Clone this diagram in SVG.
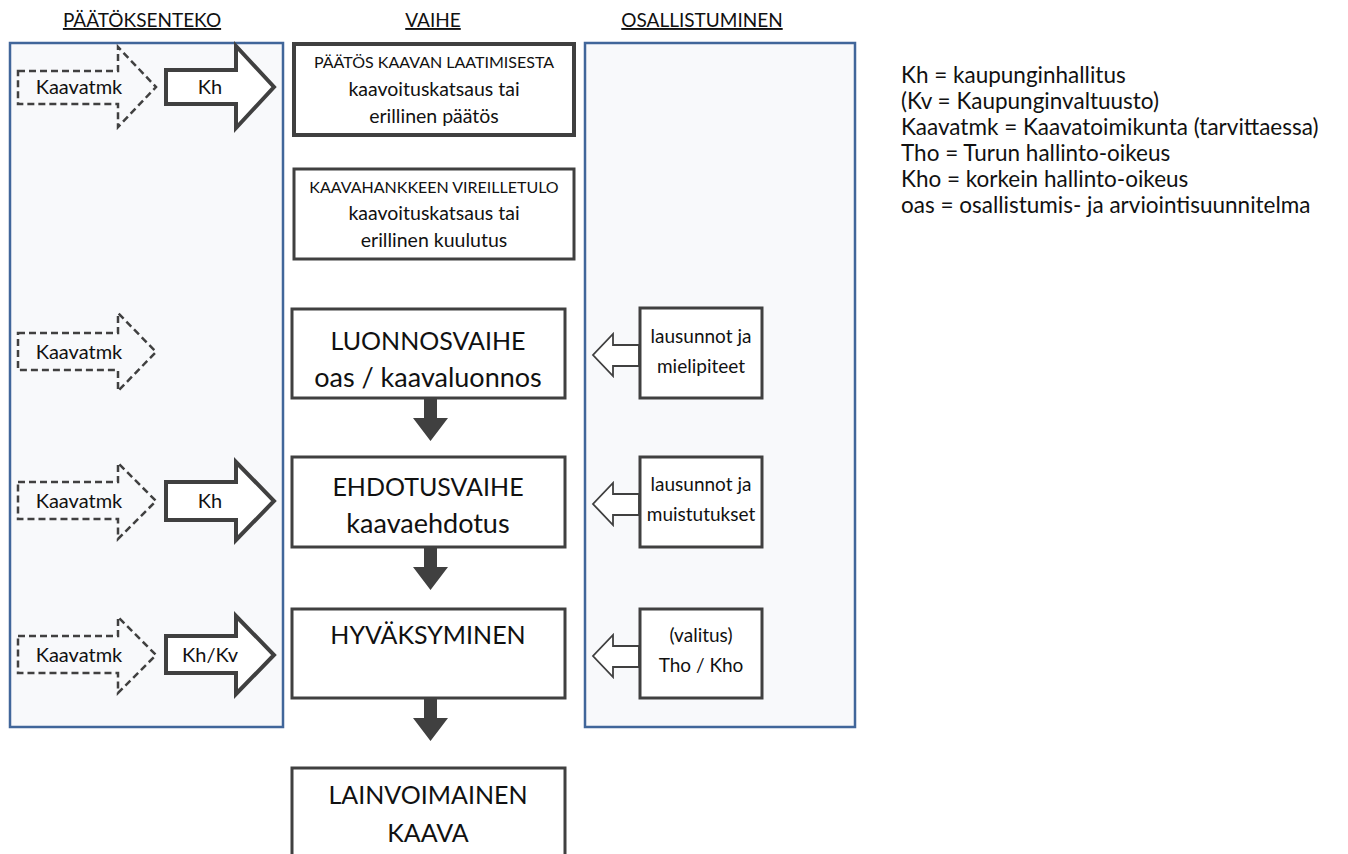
<svg xmlns="http://www.w3.org/2000/svg" width="1348" height="854" viewBox="0 0 1348 854">
<style>
text{font-family:Lato,"Open Sans","Liberation Sans",sans-serif;fill:#111;}
.hdr{font-size:19px;text-anchor:middle;text-decoration:underline;}
.panel{fill:#f8f9fb;stroke:#41669a;stroke-width:2.5;}
.box{fill:#fff;stroke:#404040;stroke-width:3;}
.box1{fill:#fff;stroke:#404040;stroke-width:4;}
.cap{font-size:16px;text-anchor:middle;}
.sm{font-size:19.5px;text-anchor:middle;}
.bigc{font-size:25px;text-anchor:middle;}
.big{font-size:27px;text-anchor:middle;}
.md{font-size:19px;text-anchor:middle;}
.lbl{font-size:20px;text-anchor:middle;}
.dash{fill:none;stroke:#404040;stroke-width:2.5;stroke-dasharray:7,4;}
.solid{fill:#fff;stroke:#404040;stroke-width:4;stroke-linejoin:miter;}
.hollow{fill:#fff;stroke:#404040;stroke-width:1.8;}
.down{fill:#404040;}
.leg{font-size:22.5px;}
</style>
<g id="headers">
<text class="hdr" x="142" y="27">PÄÄTÖKSENTEKO</text>
<text class="hdr" x="433" y="27">VAIHE</text>
<text class="hdr" x="702" y="27">OSALLISTUMINEN</text>
</g>
<g id="panel-paatoksenteko"><rect class="panel" x="10" y="43" width="273" height="684"/></g>
<g id="panel-osallistuminen"><rect class="panel" x="585" y="43" width="270" height="684"/></g>

<g id="connectors">
<path class="dash" d="M18,71 H118 V47 L156,87 L118,127 V104 H18 Z"/>
<path class="solid" d="M166,70 H236 V46 L274,87 L236,128 V104 H166 Z"/>
<path class="dash" d="M18,333 H118 V313 L156,352 L118,391 V370 H18 Z"/>
<path class="dash" d="M18,482 H118 V463 L156,501 L118,539 V519 H18 Z"/>
<path class="solid" d="M166,482 H236 V462 L274,501 L236,540 V520 H166 Z"/>
<path class="dash" d="M18,636 H118 V617 L156,655 L118,693 V673 H18 Z"/>
<path class="solid" d="M166,636 H236 V616 L274,655 L236,694 V673 H166 Z"/>
<path class="hollow" d="M639,345 H613 V334 L593,355 L613,376 V366 H639 Z"/>
<path class="hollow" d="M639,494 H613 V483 L593,504 L613,525 V515 H639 Z"/>
<path class="hollow" d="M639,646 H613 V635 L593,656 L613,677 V667 H639 Z"/>
<path class="down" d="M424,399 H437 V418 H448 L430.5,441 L413,418 H424 Z"/>
<path class="down" d="M424,548 H437 V567 H448 L430.5,590 L413,567 H424 Z"/>
<path class="down" d="M424,699 H437 V718 H448 L430.5,741 L413,718 H424 Z"/>
</g>

<g id="lbl-arrows">
<text class="lbl" x="79" y="94">Kaavatmk</text>
<text class="lbl" x="210" y="94">Kh</text>
<text class="lbl" x="79" y="359">Kaavatmk</text>
<text class="lbl" x="79" y="508">Kaavatmk</text>
<text class="lbl" x="210" y="508">Kh</text>
<text class="lbl" x="79" y="662">Kaavatmk</text>
<text class="lbl" x="210" y="662">Kh/Kv</text>
</g>

<g id="node-paatos">
<rect class="box1" x="294" y="44" width="280" height="91"/>
<text class="cap" x="434" y="68">PÄÄTÖS KAAVAN LAATIMISESTA</text>
<text class="sm" x="434" y="96">kaavoituskatsaus tai</text>
<text class="sm" x="434" y="123">erillinen päätös</text>
</g>
<g id="node-vireilletulo">
<rect class="box" x="294" y="169" width="280" height="90"/>
<text class="cap" x="434" y="193">KAAVAHANKKEEN VIREILLETULO</text>
<text class="sm" x="434" y="220">kaavoituskatsaus tai</text>
<text class="sm" x="434" y="247">erillinen kuulutus</text>
</g>
<g id="node-luonnos">
<rect class="box" x="292" y="309" width="273" height="89"/>
<text class="bigc" x="428" y="350">LUONNOSVAIHE</text>
<text class="big" x="428" y="387">oas / kaavaluonnos</text>
</g>
<g id="node-ehdotus">
<rect class="box" x="292" y="457" width="273" height="90"/>
<text class="bigc" x="428" y="496">EHDOTUSVAIHE</text>
<text class="big" x="428" y="533">kaavaehdotus</text>
</g>
<g id="node-hyvaksyminen">
<rect class="box" x="292" y="609" width="273" height="89"/>
<text class="bigc" x="428" y="644">HYVÄKSYMINEN</text>
</g>
<g id="node-lainvoimainen">
<rect class="box" x="292" y="768" width="273" height="100"/>
<text class="bigc" x="428" y="804">LAINVOIMAINEN</text>
<text class="bigc" x="428" y="842">KAAVA</text>
</g>

<g id="node-mielipiteet">
<rect class="box" x="640" y="308" width="122" height="90"/>
<text class="md" x="701" y="343">lausunnot ja</text>
<text class="md" x="701" y="373">mielipiteet</text>
</g>
<g id="node-muistutukset">
<rect class="box" x="640" y="457" width="122" height="90"/>
<text class="md" x="701" y="491">lausunnot ja</text>
<text class="md" x="701" y="521">muistutukset</text>
</g>
<g id="node-valitus">
<rect class="box" x="640" y="609" width="122" height="89"/>
<text class="md" x="701" y="642">(valitus)</text>
<text class="md" x="701" y="672">Tho / Kho</text>
</g>

<g id="legend">
<text class="leg" x="901" y="83">Kh = kaupunginhallitus</text>
<text class="leg" x="901" y="109">(Kv = Kaupunginvaltuusto)</text>
<text class="leg" x="901" y="135">Kaavatmk = Kaavatoimikunta (tarvittaessa)</text>
<text class="leg" x="901" y="161">Tho = Turun hallinto-oikeus</text>
<text class="leg" x="901" y="187">Kho = korkein hallinto-oikeus</text>
<text class="leg" x="901" y="213">oas = osallistumis- ja arviointisuunnitelma</text>
</g>
</svg>
